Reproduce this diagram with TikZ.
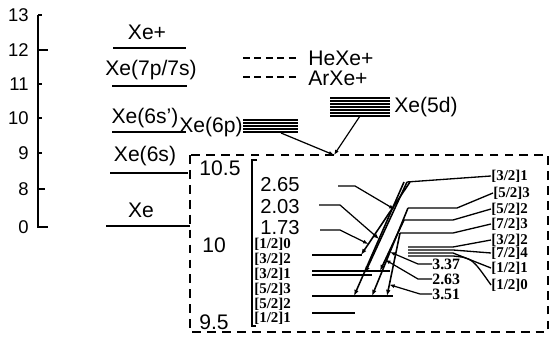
\documentclass[tikz,border=0pt]{standalone}
\usepackage{fontspec}
\setmainfont{Liberation Serif}
\setsansfont{Liberation Sans}
\usetikzlibrary{arrows.meta,calc}

\begin{document}
\begin{tikzpicture}[x=0.02cm, y=-0.02cm,
  every node/.style={font=\sffamily\fontsize{12}{13}\selectfont, inner sep=0pt},
  lvl/.style  ={line width=0.9pt},
  axis/.style ={line width=1.4pt},
  band/.style ={line width=1.3pt},
  ion/.style  ={dash pattern=on 4pt off 2.5pt, line width=0.7pt},
  frame/.style={dash pattern=on 5pt off 3.5pt, line width=0.7pt},
  ax/.style   ={font=\sffamily\fontsize{10.5}{11}\selectfont, anchor=east},
  jl/.style   ={font=\bfseries\fontsize{8.5}{9}\selectfont, anchor=west},
  wl/.style   ={font=\bfseries\fontsize{9}{10}\selectfont, anchor=west},
  il/.style   ={font=\sffamily\fontsize{11.5}{12}\selectfont},
  sub/.style  ={line width=0.75pt},
  arr/.style  ={-{Latex[length=3.5pt,width=2.6pt]}, line width=0.9pt},
  ldarr/.style={-{Latex[length=3pt,width=2.3pt]}, line width=0.7pt}]

\useasboundingbox (0,0) rectangle (554,337);

%% ── Energy axis (eV) ─────────────────────────────────────────────
\draw[axis] (38,15) -- (38,227) -- (48,227);
\foreach \y/\t/\l in {15/13/4, 50/12/10, 84/11/4, 118/10/4, 153/9/4, 189/8/7, 227/0/10} {
  \draw[axis] (38,\y) -- ++(\l,0);
  \node[ax] (tk\t) at (29,\y) {\t};
}

%% ── Xe levels ────────────────────────────────────────────────────
\draw[lvl] (113,48)  -- (186,48);
\draw[lvl] (112,86)  -- (187,86);
\draw[lvl] (112,132) -- (186,132);
\draw[lvl] (110,173) -- (188,173);
\draw[lvl] (106,226) -- (190,226);
\node (xeion) at (147,32)  {Xe+};
\node (xe7p)  at (151,70)  {Xe(7p/7s)};
\node (xe6sp) at (145,118) {Xe(6s’)};
\node (xe6s)  at (145,156) {Xe(6s)};
\node (xe)    at (141,210) {Xe};

%% ── 6p and 5d manifolds ──────────────────────────────────────────
\foreach \y in {120,123,...,132} \draw[band] (243,\y) -- (298,\y);
\foreach \y in {98,101,...,116}  \draw[band] (330,\y) -- (390,\y);
\node (xe6p) at (211,127) {Xe(6p)};
\node (xe5d) at (426,107) {Xe(5d)};

%% ── Molecular ions ───────────────────────────────────────────────
\draw[ion] (243,58) -- (300,58);
\draw[ion] (243,77) -- (300,77);
\node[anchor=west] (hexe) at (308,58) {HeXe+};
\node[anchor=west] (arxe) at (308,78) {ArXe+};

%% ── Inset frame and zoom lines ───────────────────────────────────
\draw[frame] (190,155) rectangle (548,332);
\coordinate (p6)   at (281,133);
\coordinate (d5)   at (360,116);
\coordinate (zoom) at (334,155);
\draw[ldarr] (p6) -- (zoom);
\draw[ldarr] (d5) -- (zoom);

%% ── Inset axis ───────────────────────────────────────────────────
\draw[axis] (257,160) -- (252,160) -- (252,326) -- (256,326);
\node (i105) at (220,168) {10.5};
\node (i100) at (214,245) {10};
\node (i95)  at (214,322) {9.5};

%% ── 6p fine levels (left) ────────────────────────────────────────
\node[jl] (p10) at (254,244) {[1/2]0};
\node[jl] (p32) at (254,259) {[3/2]2};
\node[jl] (p31) at (254,274) {[3/2]1};
\node[jl] (p53) at (254,289) {[5/2]3};
\node[jl] (p52) at (254,304) {[5/2]2};
\node[jl] (p11) at (254,318) {[1/2]1};
\draw[sub] (312,255) -- (362,255);
\draw[sub] (312,271) -- (390,271);
\draw[sub] (312,275) -- (372,275);
\draw[lvl] (312,296) -- (393,296);
\draw[sub] (312,313) -- (355,313);

%% ── 5d fine levels (right) ───────────────────────────────────────
\node[jl] (d31) at (491,176) {[3/2]1};
\node[jl] (d53) at (493,193) {[5/2]3};
\node[jl] (d52) at (491,209) {[5/2]2};
\node[jl] (d73) at (491,224) {[7/2]3};
\node[jl] (d32) at (491,240) {[3/2]2};
\node[jl] (d74) at (491,253) {[7/2]4};
\node[jl] (d11) at (491,268) {[1/2]1};
\node[jl] (d10) at (491,285) {[1/2]0};
\coordinate (top) at (407,182);
\draw[sub] (top) -- (d31.west);
\draw[sub] (408,208) -- (457,208) -- (d53.west);
\draw[sub] (404,220) -- (453,220) -- (d52.west);
\draw[sub] (400,233) -- (453,233) -- (d73.west);
\draw[sub] (408,247) -- (453,247) -- (d32.west);
\draw[sub] (408,250) -- (453,250) -- (d74.west);
\draw[sub] (408,253) -- (453,253) -- (d11.west);
\draw[sub] (408,256) -- (453,256) .. controls (472,258) .. (d10.west);

%% ── Laser transitions 5d -> 6p ───────────────────────────────────
\coordinate (t1a) at (404,182); \coordinate (t1b) at (354,296);
\coordinate (t2a) at (407,182); \coordinate (t2b) at (365,273);
\coordinate (t3a) at (410,182); \coordinate (t3b) at (361,255);
\coordinate (r1a) at (408,208); \coordinate (r1b) at (372,296);
\coordinate (r2a) at (404,220); \coordinate (r2b) at (380,271);
\coordinate (r3a) at (400,233); \coordinate (r3b) at (387,296);
\foreach \t in {t1,t2,t3,r1,r2,r3} \draw[arr] (\t a) -- (\t b);

%% ── Wavelength labels (um) ───────────────────────────────────────
\node[il] (w265) at (280,185) {2.65};
\node[il] (w203) at (280,207) {2.03};
\node[il] (w173) at (280,228) {1.73};
\draw[ldarr] (338,186) -- (355,186) -- ($(t2a)!0.3!(t2b)$);
\draw[ldarr] (319,205) -- (340,205) -- ($(t1a)!0.5!(t1b)$);
\draw[ldarr] (320,230) -- (340,230) -- ($(t3a)!0.85!(t3b)$);

\node[wl] (w337) at (432,264) {3.37};
\node[wl] (w263) at (432,279) {2.63};
\node[wl] (w351) at (432,294) {3.51};
\draw[ldarr] (w337.west) -- ++(-14,0) -- ($(r1a)!0.5!(r1b)$);
\draw[ldarr] (w263.west) -- ++(-14,0) -- ($(r2a)!0.78!(r2b)$);
\draw[ldarr] (w351.west) -- ++(-12,0) -- ($(r3a)!0.82!(r3b)$);
\end{tikzpicture}
\end{document}
